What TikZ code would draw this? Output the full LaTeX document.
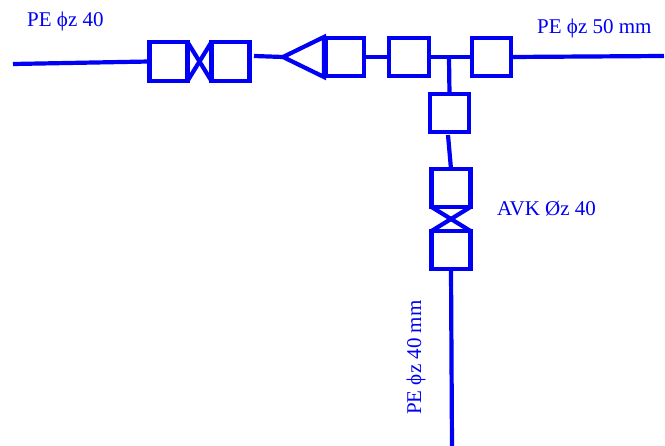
\documentclass[tikz,border=0pt]{standalone}
\usepackage{fontspec}
\setmainfont{Liberation Serif}
\definecolor{pipeblue}{RGB}{0,0,245}
\tikzset{
  x=1pt,y=-1pt,
  pipe/.style={draw=pipeblue,line width=4.2pt},
  boxpart/.style={draw=pipeblue,line width=4.3pt,minimum width=38pt,minimum height=38pt,inner sep=0pt,outer sep=0pt,shape=rectangle},
  lbl/.style={text=pipeblue,font=\fontsize{21pt}{23pt}\selectfont,inner sep=0pt,anchor=base west}
}
\begin{document}
\begin{tikzpicture}
\useasboundingbox (0,0) rectangle (665,446);
% boxes
\node[boxpart,minimum width=38pt,minimum height=39pt] (b1) at (168.5,61.5) {};
\node[boxpart,minimum height=39pt] (b2) at (230.5,61.5) {};
\node[boxpart,minimum height=38pt] (b3) at (345,57) {};
\node[boxpart,minimum width=40pt] (b4) at (409,57) {};
\node[boxpart,minimum width=39pt] (b5) at (491.5,57) {};
\node[boxpart,minimum width=39pt] (b6) at (449.5,113) {};
\node[boxpart,minimum width=39pt] (b7) at (451,188) {};
\node[boxpart,minimum width=39pt] (b8) at (451,250) {};
% free ends
\coordinate (w) at (13,64);
\coordinate (e) at (664,56);
\coordinate (s) at (452,446);
\coordinate (tee) at (449,58);
\coordinate (tip) at (283,57);
\coordinate (tt) at (324,37);
\coordinate (tb) at (324,77);
\coordinate (g1) at (254,56);
\coordinate (g2) at (448,135);
% connectors
\draw[pipe] (w) -- (b1.west);
\draw[pipe] (b5.east) -- (e);
\draw[pipe] (b8.south) -- (s);
\draw[pipe] (g1) -- (tip);
\draw[pipe,line join=miter] (tip) -- (tt) -- (tb) -- cycle;
\draw[pipe] (b3.east) -- (b4.west);
\draw[pipe] (b4.east) -- (b5.west);
\draw[pipe] (tee) -- (b6.north);
\draw[pipe] (g2) -- (b7.north);
% valve crosses
\draw[pipe] (b1.north east) -- (b2.south west);
\draw[pipe] (b1.south east) -- (b2.north west);
\draw[pipe] (b7.south west) -- (b8.north east);
\draw[pipe] (b7.south east) -- (b8.north west);
% labels
\node[lbl] (l1) at (27,27) {PE ϕz 40};
\node[lbl] (l2) at (537,34) {PE ϕz 50 mm};
\node[lbl] (l3) at (497,216) {AVK Øz 40};
\node[lbl,rotate=90] (l4) at (421,415) {PE ϕz 40 mm};
\end{tikzpicture}
\end{document}
